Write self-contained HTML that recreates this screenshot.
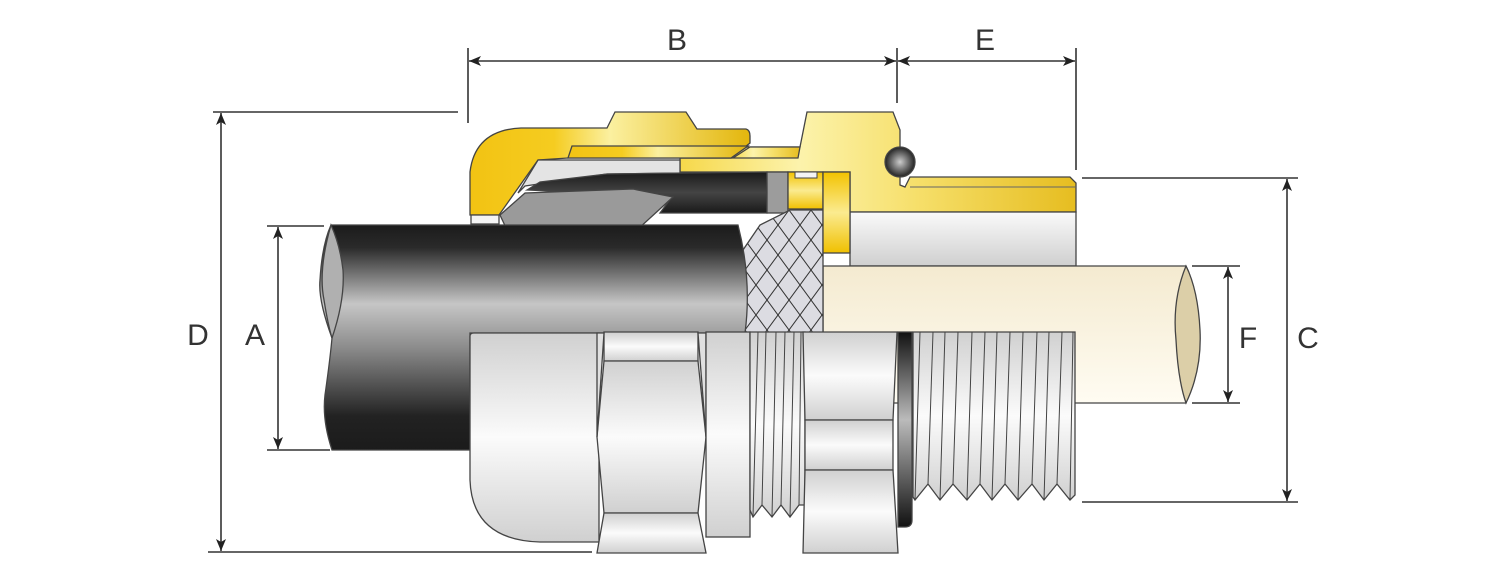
<!DOCTYPE html>
<html><head><meta charset="utf-8"><style>
html,body{margin:0;padding:0;background:#fff;}
svg{display:block;}
text{font-family:"Liberation Sans",sans-serif;font-size:30px;fill:#333;}
</style></head><body>
<svg width="1500" height="580" viewBox="0 0 1500 580" xmlns="http://www.w3.org/2000/svg">
<defs>
<marker id="ar" viewBox="0 0 12 10" refX="12" refY="5" markerWidth="12" markerHeight="10" markerUnits="userSpaceOnUse" orient="auto-start-reverse">
<path d="M0,0 L12,5 L0,10 L3,5 z" fill="#222"/>
</marker>
<linearGradient id="yN" x1="0" x2="1" y1="0" y2="0"><stop offset="0" stop-color="#f2c313"/><stop offset="0.3" stop-color="#f5cc20"/><stop offset="0.5" stop-color="#fbf0a0"/><stop offset="1" stop-color="#e3b60c"/></linearGradient>
<linearGradient id="yB" x1="0" x2="1" y1="0" y2="0"><stop offset="0" stop-color="#f6d84a"/><stop offset="0.3" stop-color="#fcf3ac"/><stop offset="0.6" stop-color="#f6df6a"/><stop offset="1" stop-color="#e6bd20"/></linearGradient>
<linearGradient id="ySm" x1="0" x2="0" y1="0" y2="1"><stop offset="0" stop-color="#f2c200"/><stop offset="0.5" stop-color="#fbeb90"/><stop offset="1" stop-color="#f0c000"/></linearGradient>
<linearGradient id="cab" x1="0" x2="0" y1="0" y2="1"><stop offset="0" stop-color="#1b1b1b"/><stop offset="0.1" stop-color="#2a2a2a"/><stop offset="0.35" stop-color="#c6c6c6"/><stop offset="0.55" stop-color="#8a8a8a"/><stop offset="0.85" stop-color="#222"/><stop offset="1" stop-color="#1b1b1b"/></linearGradient>
<linearGradient id="blk" x1="0" x2="0" y1="0" y2="1"><stop offset="0" stop-color="#1a1a1a"/><stop offset="0.5" stop-color="#444"/><stop offset="1" stop-color="#1a1a1a"/></linearGradient>
<linearGradient id="cr" x1="0" x2="0" y1="0" y2="1"><stop offset="0" stop-color="#f4ead0"/><stop offset="1" stop-color="#fffcf2"/></linearGradient>
<linearGradient id="gr" x1="0" x2="0" y1="0" y2="1"><stop offset="0" stop-color="#d0d0d0"/><stop offset="0.5" stop-color="#fbfbfb"/><stop offset="1" stop-color="#d0d0d0"/></linearGradient>
<linearGradient id="grB" x1="0" x2="0" y1="0" y2="1"><stop offset="0" stop-color="#fafafa"/><stop offset="1" stop-color="#cfcfcf"/></linearGradient>
<linearGradient id="wash" x1="0" x2="0" y1="0" y2="1"><stop offset="0" stop-color="#111"/><stop offset="0.45" stop-color="#bbb"/><stop offset="1" stop-color="#111"/></linearGradient>
<radialGradient id="ball" cx="0.5" cy="0.5" r="0.5"><stop offset="0" stop-color="#ccc"/><stop offset="1" stop-color="#222"/></radialGradient>
<pattern id="braid" width="22" height="30" patternUnits="userSpaceOnUse" x="745" y="210"><rect width="22" height="30" fill="#dcdce2"/><path d="M0,0 L22,30 M22,0 L0,30" stroke="#333" stroke-width="1"/></pattern>
</defs>

<g stroke="#444" stroke-width="1.3">
<path d="M731,147 L800,147 L807,112 L893,112 L900,130 L900,185 L905,187 L910,177 L1070,177 L1076,183 L1076,212 L850,212 L850,172 L680,172 L680,158 L731,158 Z" fill="url(#yB)"/>
<line x1="910" y1="187" x2="1076" y2="187" stroke="#666" stroke-width="1"/>
<circle cx="900" cy="162" r="15" fill="url(#ball)"/>
<rect x="850" y="212" width="226" height="54" fill="url(#grB)"/>
<path d="M470,213 L470,172 Q475,130 521,128 L607,128 L615,112 L686,112 L697,129 L746,129 Q750,130 750,136 L750,143 L731,158 L568,158 L538,160 L499,215 L470,215 Z" fill="url(#yN)"/>
<rect x="471" y="215" width="28" height="9" fill="#f4f4f4"/>
<path d="M572,146 L748,146 L731,158 L568,158 Z" fill="url(#yN)"/>
<path d="M750,147 L800,147 L798,158 L733,158 Z" fill="url(#yB)"/>
<path d="M538,160 L680,160 L680,173 L607,174 L525,186 L518,193 Z" fill="#e4e4e4"/>
<path d="M527,190 L540,182 L607,174 L767,172 L767,213 L660,213 L672,197 Z" fill="url(#blk)"/>
<path d="M500,215 L525,193 L633,189 L673,197 L637,230 L507,230 Z" fill="#9a9a9a"/>
<rect x="767" y="172" width="21" height="41" fill="#9c9c9c"/>
<rect x="788" y="172" width="35" height="37" fill="url(#ySm)"/>
<rect x="795" y="172" width="22" height="6" fill="#f4f4f4" stroke-width="1"/>
<path d="M823,266 L1186,266 Q1204,300 1186,403 L823,403 Z" fill="url(#cr)"/>
<path d="M1186,266 Q1172,300 1176,340 Q1178,380 1186,403 Q1202,370 1200,330 Q1198,290 1186,266 Z" fill="#dccfa8"/>
<path d="M790,210 L823,210 L823,333 L742,333 L745,300 L743,250 L760,225 Z" fill="url(#braid)"/>
<rect x="823" y="172" width="27" height="81" fill="url(#ySm)"/>
<path d="M331,225 L738,225 Q752,280 745,333 L470,333 L470,450 L332,450 Q322,420 325,395 Q330,360 332,338 Q318,300 320,280 Q322,245 331,225 Z" fill="url(#cab)"/>
<path d="M331,225 Q318,270 324,300 Q328,325 332,338 Q345,300 343,270 Q340,245 331,225 Z" fill="#b0b0b0"/>
<path d="M470,336 Q470,333 474,333 L599,333 L599,542 L540,542 Q472,540 470,480 Z" fill="url(#gr)"/>
<path d="M604,332 L698,332 L698,361 L604,361 Z" fill="url(#gr)"/>
<path d="M604,361 L698,361 L706,437 L698,513 L604,513 L597,437 Z" fill="url(#gr)"/>
<path d="M604,513 L698,513 L706,553 L597,553 Z" fill="url(#gr)"/>
<path d="M597,333 L604,333 L597,437 Z M698,333 L706,333 L706,437 Z" fill="#e0e0e0"/>
<rect x="706" y="332" width="44" height="205" fill="url(#gr)"/>
<path d="M750,332 L805,332 L805,505 L799,505 L790,517 L781,505 L772,517 L762,505 L753,517 L750,510 Z" fill="url(#gr)"/>
<path d="M753,517 L758,332 M762,505 L766,332 M772,517 L776,332 M781,505 L785,332 M790,517 L794,332 M799,505 L801,332" fill="none" stroke-width="1"/>
<path d="M803,332 L897,332 L893,420 L805,420 Z" fill="url(#gr)"/>
<path d="M805,420 L893,420 L893,470 L805,470 Z" fill="url(#gr)"/>
<path d="M805,470 L893,470 L898,553 L803,553 Z" fill="url(#gr)"/>
<path d="M898,332 L912,332 L912,520 Q912,527 905,527 L898,527 Z" fill="url(#wash)"/>
<path d="M913,332 L1075,332 L1075,495 L1070,500 L1057,484 L1044,500 L1032,484 L1018,500 L1005,484 L992,500 L980,484 L967,500 L953,484 L940,500 L928,484 L915,500 L913,497 Z" fill="url(#gr)"/>
<path d="M915,500 L920,332 M928,484 L933,332 M940,500 L945,332 M953,484 L958,332 M967,500 L972,332 M980,484 L985,332 M992,500 L997,332 M1005,484 L1010,332 M1018,500 L1023,332 M1032,484 L1037,332 M1044,500 L1049,332 M1057,484 L1062,332 M1070,500 L1073,332" fill="none" stroke-width="1"/>
</g>

<g stroke="#333" stroke-width="1.6" fill="none">
<line x1="468" y1="48" x2="468" y2="123"/>
<line x1="897" y1="48" x2="897" y2="103"/>
<line x1="1076" y1="48" x2="1076" y2="170"/>
<line x1="469" y1="61" x2="896" y2="61" marker-start="url(#ar)" marker-end="url(#ar)"/>
<line x1="898" y1="61" x2="1075" y2="61" marker-start="url(#ar)" marker-end="url(#ar)"/>
<line x1="213" y1="112" x2="458" y2="112"/>
<line x1="208" y1="552" x2="592" y2="552"/>
<line x1="221" y1="113" x2="221" y2="551" marker-start="url(#ar)" marker-end="url(#ar)"/>
<line x1="267" y1="226" x2="324" y2="226"/>
<line x1="267" y1="450" x2="330" y2="450"/>
<line x1="278" y1="227" x2="278" y2="449" marker-start="url(#ar)" marker-end="url(#ar)"/>
<line x1="1082" y1="178" x2="1298" y2="178"/>
<line x1="1082" y1="502" x2="1298" y2="502"/>
<line x1="1287" y1="179" x2="1287" y2="501" marker-start="url(#ar)" marker-end="url(#ar)"/>
<line x1="1192" y1="266" x2="1240" y2="266"/>
<line x1="1192" y1="403" x2="1240" y2="403"/>
<line x1="1228" y1="267" x2="1228" y2="402" marker-start="url(#ar)" marker-end="url(#ar)"/>
</g>
<text x="677" y="50" text-anchor="middle">B</text>
<text x="985" y="50" text-anchor="middle">E</text>
<text x="198" y="345" text-anchor="middle">D</text>
<text x="255" y="345" text-anchor="middle">A</text>
<text x="1248" y="348" text-anchor="middle">F</text>
<text x="1308" y="348" text-anchor="middle">C</text>
</svg>
</body></html>
